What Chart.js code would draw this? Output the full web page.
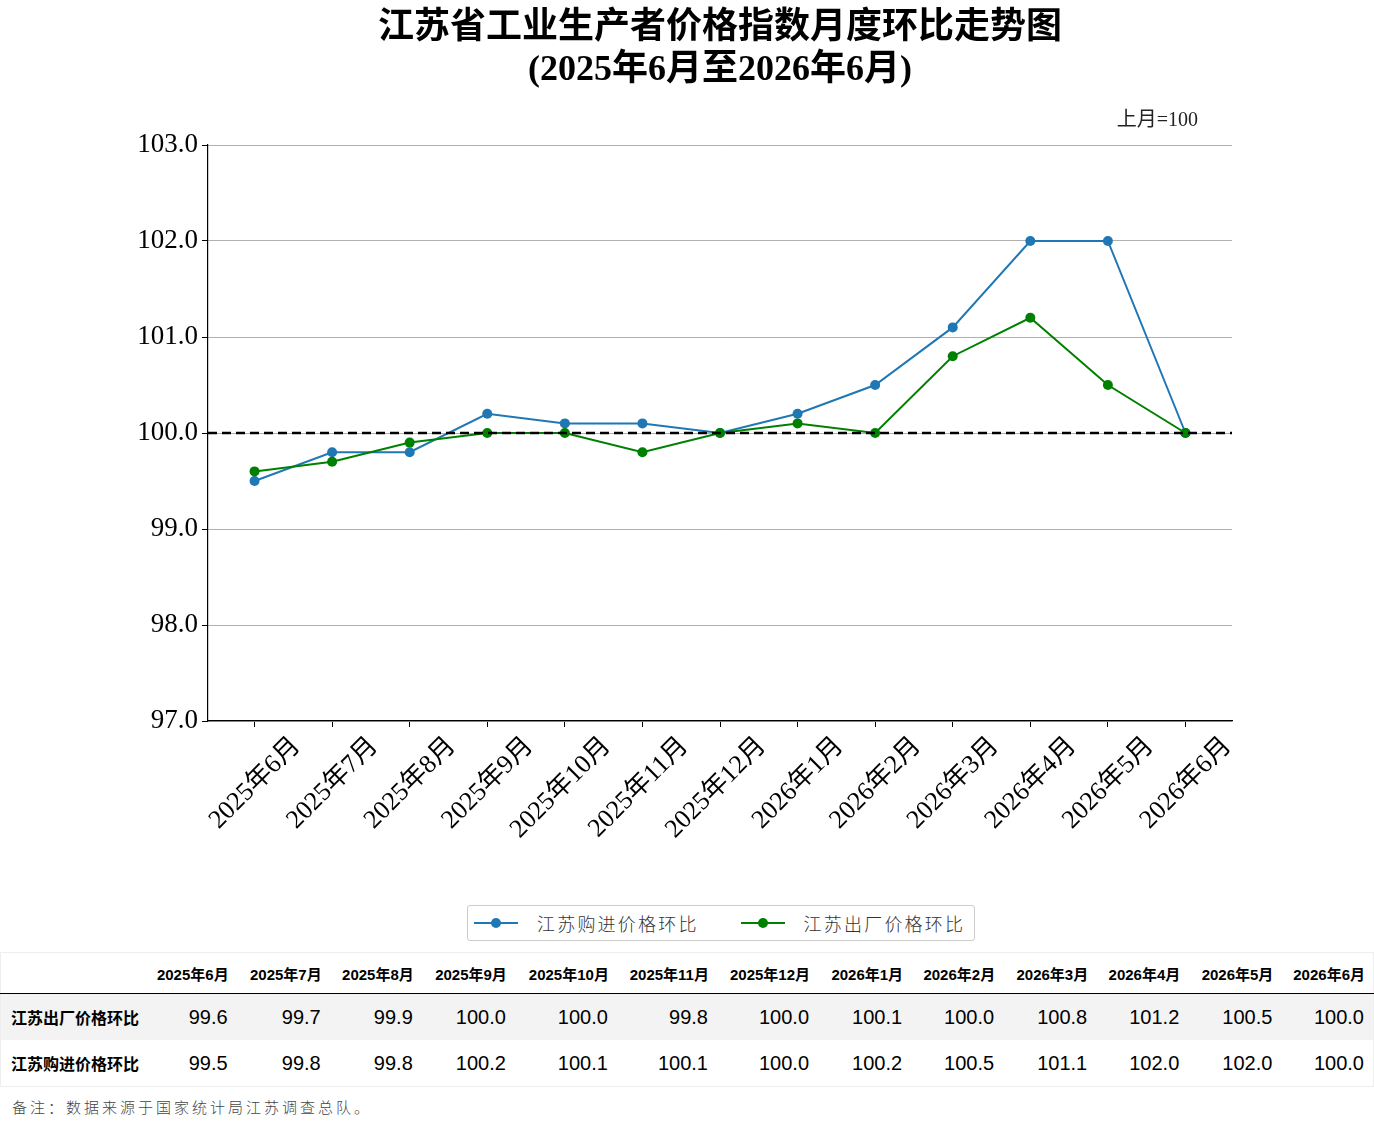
<!DOCTYPE html>
<html>
<head>
<meta charset="utf-8">
<script src="https://cdn.jsdelivr.net/npm/chart.js@4.4.1/dist/chart.umd.min.js"></script>
<style>
  body { margin: 0; background: #fff; }
  #wrap { position: relative; width: 1374px; height: 1137px; overflow: hidden; }
  #chartBox { position: absolute; left: 0; top: 0; width: 1374px; height: 895px; }
  .serif { font-family: "Liberation Serif", "Noto Sans CJK SC", serif; }
  #title { position: absolute; left: 208px; width: 1024px; top: 5px; text-align: center;
           font-size: 36px; font-weight: bold; line-height: 42px; color: #000; }
  #unit { position: absolute; left: 1060px; width: 138px; top: 103px; text-align: right;
          font-size: 20px; color: #222; }
  #legend { position: absolute; left: 467px; top: 905px; width: 506px; height: 34px;
            border: 1px solid #ccc; border-radius: 3px; display: flex; align-items: center; }
  .item { display: flex; align-items: center; margin-left: 6px; margin-right: 36px; white-space: nowrap; }
  .swatch { position: relative; width: 44px; height: 10px; margin-right: 19px; flex: none; }
  .swatch::before { content: ""; position: absolute; left: 0; right: 0; top: 4px; height: 2px; background: var(--c); }
  .swatch::after { content: ""; position: absolute; left: 17px; top: 0; width: 10px; height: 10px; border-radius: 50%; background: var(--c); }
  .item span { font-family: "Noto Sans CJK SC", sans-serif; font-weight: 300; font-size: 18px;
               letter-spacing: 2.2px; color: #333; white-space: nowrap; }
  #tbl { position: absolute; left: 0; top: 952px; width: 1374px; border-collapse: collapse;
         table-layout: fixed; font-family: "Liberation Sans", Arial, "Noto Sans CJK SC", sans-serif;
         border: 1px solid #eee; }
  #tbl th { font-size: 15px; font-weight: bold; text-align: right; padding: 0 8px 0 0; height: 40px;
            border-bottom: 1.5px solid #000; white-space: nowrap; }
  #tbl td { font-size: 20px; text-align: right; padding: 0 9px 0 0; height: 46px; color: #000; }
  #tbl td.lab { font-family: "Noto Sans CJK SC", sans-serif; font-weight: bold; font-size: 16px;
                text-align: left; padding-left: 10px; white-space: nowrap; }
  #tbl tr.odd td { background: #f3f3f3; }
  #note { position: absolute; left: 12px; top: 1096px; font-family: "Noto Sans CJK SC", sans-serif;
          font-weight: 300; font-size: 15px; letter-spacing: 3px; color: #444; }
</style>
</head>
<body>
<div id="wrap">
  <div id="chartBox"><canvas id="myChart"></canvas></div>
  <div id="title" class="serif">江苏省工业生产者价格指数月度环比走势图<br>(2025年6月至2026年6月)</div>
  <div id="unit" class="serif">上月=100</div>
  <div id="legend"></div>
  <table id="tbl"></table>
  <div id="note">备注：数据来源于国家统计局江苏调查总队。</div>
</div>
<script>
// month labels (x axis and table header)
const months = ['2025年6月', '2025年7月', '2025年8月', '2025年9月', '2025年10月', '2025年11月',
  '2025年12月', '2026年1月', '2026年2月', '2026年3月', '2026年4月', '2026年5月', '2026年6月'];

// 江苏购进价格环比
const purchaseIdx = [99.5, 99.8, 99.8, 100.2, 100.1, 100.1, 100.0, 100.2, 100.5, 101.1, 102.0, 102.0, 100.0];
// 江苏出厂价格环比
const factoryIdx = [99.6, 99.7, 99.9, 100.0, 100.0, 99.8, 100.0, 100.1, 100.0, 100.8, 101.2, 100.5, 100.0];

const yTicks = [97, 98, 99, 100, 101, 102, 103];
const baseLine = 100; // 上月=100

const BLUE = '#1f77b4';
const GREEN = '#008000';
const serif = '"Liberation Serif", "Noto Sans CJK SC", serif';

// dashed reference line at 100
const baseLinePlugin = {
  id: 'baseLine',
  afterDatasetsDraw(chart) {
    const { ctx, chartArea, scales } = chart;
    const y = scales.y.getPixelForValue(baseLine);
    ctx.save();
    ctx.strokeStyle = '#000';
    ctx.lineWidth = 2.5;
    ctx.setLineDash([9, 5]);
    ctx.beginPath();
    ctx.moveTo(chartArea.left, y);
    ctx.lineTo(chartArea.right, y);
    ctx.stroke();
    ctx.restore();
  }
};

const ctx = document.getElementById('myChart').getContext('2d');
const myChart = new Chart(ctx, {
  type: 'line',
  data: {
    datasets: [
      {
        label: '江苏购进价格环比',
        data: purchaseIdx.map((v, i) => ({ x: i, y: v })),
        borderColor: BLUE,
        backgroundColor: BLUE,
        borderWidth: 2,
        pointRadius: 5,
        pointBorderWidth: 0,
        order: 2
      },
      {
        label: '江苏出厂价格环比',
        data: factoryIdx.map((v, i) => ({ x: i, y: v })),
        borderColor: GREEN,
        backgroundColor: GREEN,
        borderWidth: 2,
        pointRadius: 5,
        pointBorderWidth: 0,
        order: 1
      }
    ]
  },
  options: {
    responsive: true,
    maintainAspectRatio: false,
    animation: false,
    layout: { padding: { top: 145, right: 142, left: 0, bottom: 0 } },
    plugins: {
      legend: { display: false },
      tooltip: { enabled: false }
    },
    scales: {
      x: {
        type: 'linear',
        min: -0.6,
        max: months.length - 1 + 0.6,
        afterBuildTicks: s => { s.ticks = months.map((m, i) => ({ value: i })); },
        afterFit: s => { s.height = 174; },
        ticks: {
          autoSkip: false,
          maxRotation: 45,
          minRotation: 45,
          labelOffset: 42,
          padding: 4,
          color: '#000',
          font: { family: serif, size: 26 },
          callback: v => months[v]
        },
        grid: { drawOnChartArea: false, drawTicks: true, tickLength: 6, tickColor: '#000', tickWidth: 1 },
        border: { color: '#000', width: 1.2 }
      },
      y: {
        min: yTicks[0],
        max: yTicks[yTicks.length - 1],
        afterBuildTicks: s => { s.ticks = yTicks.map(v => ({ value: v })); },
        afterFit: s => { s.width = 208; },
        ticks: {
          padding: 4,
          color: '#000',
          font: { family: serif, size: 27 },
          callback: v => v.toFixed(1)
        },
        grid: { color: '#b0b0b0', lineWidth: 1, tickLength: 6, tickColor: '#000', tickWidth: 1 },
        border: { color: '#000', width: 1.2 }
      }
    }
  },
  plugins: [baseLinePlugin]
});

// html legend
const legendEl = document.getElementById('legend');
myChart.data.datasets.forEach(ds => {
  const it = document.createElement('div');
  it.className = 'item';
  it.innerHTML = '<div class="swatch" style="--c:' + ds.borderColor + '"></div><span>' + ds.label + '</span>';
  legendEl.appendChild(it);
});

// data table
const colW = [143, 93, 93, 92, 93, 102, 100, 101, 93, 92, 93, 92, 93, 92];
const rows = [['江苏出厂价格环比', factoryIdx], ['江苏购进价格环比', purchaseIdx]];
let html = '<colgroup>' + colW.map(w => '<col style="width:' + w + 'px">').join('') + '</colgroup>';
html += '<tr><th></th>' + months.map(m => '<th>' + m + '</th>').join('') + '</tr>';
rows.forEach((r, k) => {
  html += '<tr class="' + (k === 0 ? 'odd' : '') + '"><td class="lab">' + r[0] + '</td>' +
    r[1].map(v => '<td>' + v.toFixed(1) + '</td>').join('') + '</tr>';
});
document.getElementById('tbl').innerHTML = html;
</script>
</body>
</html>
